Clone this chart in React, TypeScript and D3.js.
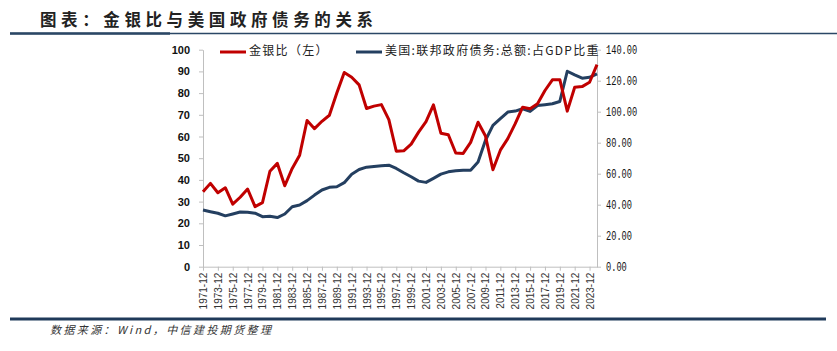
import React, { useRef, useEffect } from 'react';
import * as d3 from 'd3';

// 年份（每年12月）
const years: number[] = d3.range(1971, 2025);

// 金银比（左轴）
const goldSilver: number[] = [
    34.5, 38.4, 34.1, 36.4, 28.8, 32.0, 35.8, 27.7, 29.5, 44.0,
    47.6, 37.3, 45.3, 51.4, 67.4, 63.6, 67.0, 69.8, 80.0, 89.5,
    87.3, 83.8, 72.9, 74.0, 74.7, 67.8, 53.2, 53.4, 56.5, 62.0,
    66.9, 74.6, 61.5, 60.8, 52.4, 52.2, 57.3, 66.6, 60.2, 44.7,
    53.7, 59.0, 65.9, 73.5, 72.8, 75.1, 81.2, 86.1, 86.2, 71.7,
    82.7, 83.0, 85.0, 93.1,
];

// 美国:联邦政府债务:总额:占GDP比重（右轴）
const debtRatio: number[] = [
    36.6, 35.5, 34.5, 32.8, 34.0, 35.3, 35.1, 34.5, 32.3, 32.5,
    31.7, 34.0, 38.7, 39.8, 42.6, 46.2, 49.5, 51.2, 51.6, 54.2,
    59.7, 62.7, 64.2, 64.7, 65.1, 65.5, 63.4, 60.6, 58.0, 55.2,
    54.4, 57.0, 59.7, 61.2, 61.9, 62.3, 62.3, 67.6, 81.6, 91.2,
    95.5, 99.8, 100.4, 101.9, 100.2, 104.0, 104.5, 105.1, 106.6, 126.1,
    123.7, 121.6, 122.2, 124.4,
];

const leftTicks = d3.range(0, 101, 10);
const rightTicks = d3.range(0, 141, 20);
const xTickYears = years.filter(y => (y - 1971) % 2 === 0 && y <= 2023);

const seriesNames = ['金银比（左）', '美国:联邦政府债务:总额:占GDP比重'];
const titleText = '图表：金银比与美国政府债务的关系';
const sourceText = '数据来源：Wind，中信建投期货整理';

const RED = '#c00000';
const BLUE = '#243f60';
const AXIS = '#bfbfbf';
const CJK = '"Noto Sans CJK SC", "Noto Sans", sans-serif';

const App: React.FC = () => {
    const svgRef = useRef<SVGSVGElement | null>(null);
    const width = 837;
    const height = 351;
    const plot = { left: 203, right: 597, top: 49.7, bottom: 266.7 };

    useEffect(() => {
        if (!svgRef.current) return;
        const svg = d3.select(svgRef.current);
        svg.selectAll('*').remove();

        svg.append('rect').attr('width', width).attr('height', height).attr('fill', '#fff');

        // title + rules
        svg.append('text')
            .attr('x', 40).attr('y', 22)
            .attr('dominant-baseline', 'middle')
            .attr('font-family', CJK).attr('font-size', 16.5).attr('font-weight', 600)
            .attr('letter-spacing', 4.6).attr('fill', '#222')
            .text(titleText);
        svg.append('line').attr('x1', 10).attr('x2', 837).attr('y1', 33.5).attr('y2', 33.5)
            .attr('stroke', '#2b4766').attr('stroke-width', 1.5);
        svg.append('line').attr('x1', 10).attr('x2', 170).attr('y1', 33.5).attr('y2', 33.5)
            .attr('stroke', '#2b4766').attr('stroke-width', 2.5);
        svg.append('line').attr('x1', 10).attr('x2', 826).attr('y1', 319).attr('y2', 319)
            .attr('stroke', '#1f3a5a').attr('stroke-width', 3);
        svg.append('text')
            .attr('x', 50).attr('y', 331)
            .attr('dominant-baseline', 'middle')
            .attr('font-family', CJK).attr('font-size', 11).attr('font-style', 'italic')
            .attr('letter-spacing', 2.4).attr('fill', '#333')
            .text(sourceText);

        const x = d3.scalePoint<number>().domain(years).range([plot.left, plot.right]);
        const yL = d3.scaleLinear().domain([0, 100]).range([plot.bottom, plot.top]);
        const yR = d3.scaleLinear().domain([0, 140]).range([plot.bottom, plot.top]);

        const styleAxis = (g: d3.Selection<SVGGElement, unknown, null, undefined>) => {
            g.select('.domain').attr('stroke', AXIS);
            g.selectAll('.tick line').attr('stroke', AXIS);
            g.selectAll('.tick text').attr('fill', '#111');
        };

        const gl = svg.append('g')
            .attr('transform', `translate(${plot.left},0)`)
            .call(d3.axisLeft(yL).tickValues(leftTicks).tickSize(4).tickSizeOuter(0).tickPadding(9))
            .attr('font-family', '"Liberation Sans Narrow", "Liberation Sans", Arial, sans-serif')
            .attr('font-size', 11).attr('font-weight', 700);
        styleAxis(gl);

        const gr = svg.append('g')
            .attr('transform', `translate(${plot.right},0)`)
            .call(d3.axisRight(yR).tickValues(rightTicks).tickSize(4).tickSizeOuter(0).tickPadding(5)
                .tickFormat(d => d3.format('.2f')(d as number)))
            .attr('font-family', '"Liberation Mono", "DejaVu Sans Mono", monospace')
            .attr('font-size', 12);
        styleAxis(gr);
        gr.selectAll<SVGTextElement, number>('.tick text')
            .attr('textLength', d => d3.format('.2f')(d).length * 5.2)
            .attr('lengthAdjust', 'spacingAndGlyphs');

        const gx = svg.append('g')
            .attr('transform', `translate(0,${plot.bottom})`)
            .call(d3.axisBottom(x).tickValues(xTickYears).tickSize(4).tickSizeOuter(0)
                .tickFormat(d => `${d}-12`))
            .attr('font-family', '"Liberation Sans", Arial, sans-serif')
            .attr('font-size', 10);
        styleAxis(gx);
        gx.selectAll('.tick text')
            .attr('transform', 'rotate(-90)')
            .attr('text-anchor', 'end')
            .attr('x', -6).attr('y', 0).attr('dy', '0.35em')
            .attr('fill', '#333');

        // lines
        const lineL = d3.line<number>().x((_, i) => x(years[i]) as number).y(d => yL(d));
        const lineR = d3.line<number>().x((_, i) => x(years[i]) as number).y(d => yR(d));

        svg.append('path').datum(debtRatio)
            .attr('fill', 'none').attr('stroke', BLUE).attr('stroke-width', 3)
            .attr('stroke-linejoin', 'round').attr('d', lineR);
        svg.append('path').datum(goldSilver)
            .attr('fill', 'none').attr('stroke', RED).attr('stroke-width', 3)
            .attr('stroke-linejoin', 'round').attr('d', lineL);

        // legend
        const legend = [
            { name: seriesNames[0], color: RED, x: 220 },
            { name: seriesNames[1], color: BLUE, x: 356 },
        ];
        legend.forEach(l => {
            svg.append('line').attr('x1', l.x).attr('x2', l.x + 26).attr('y1', 52).attr('y2', 52)
                .attr('stroke', l.color).attr('stroke-width', 3);
            svg.append('text')
                .attr('x', l.x + 29).attr('y', 52)
                .attr('dominant-baseline', 'middle')
                .attr('font-family', CJK).attr('font-size', 12)
                .attr('letter-spacing', 1.3).attr('fill', '#222')
                .text(l.name);
        });
    }, []);

    return (
        <svg ref={svgRef} width={width} height={height}
            style={{ position: 'absolute', left: 0, top: 0, display: 'block' }} />
    );
};

export default App;
